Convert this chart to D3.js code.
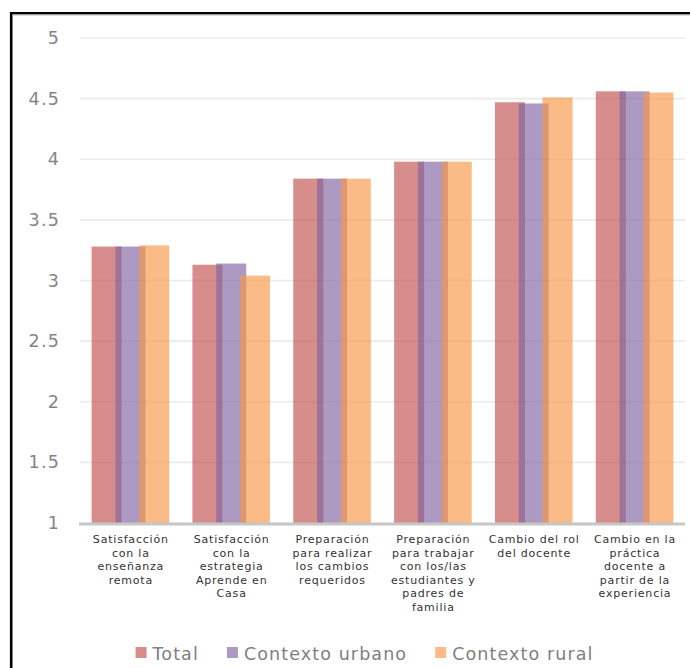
<!DOCTYPE html>
<html>
<head>
<meta charset="utf-8">
<script src="https://cdn.jsdelivr.net/npm/d3@7"></script>
<style>
  html, body { margin: 0; padding: 0; background: #fff; }
  svg { display: block; font-family: "DejaVu Sans", Verdana, sans-serif; }
</style>
</head>
<body>
<svg id="chart" width="690" height="668"></svg>
<script>
// Categories (wrapped into lines as printed under each group)
const categories = [
  ["Satisfacción", "con la", "enseñanza", "remota"],
  ["Satisfacción", "con la", "estrategia", "Aprende en", "Casa"],
  ["Preparación", "para realizar", "los cambios", "requeridos"],
  ["Preparación", "para trabajar", "con los/las", "estudiantes y", "padres de", "familia"],
  ["Cambio del rol", "del docente"],
  ["Cambio en la", "práctica", "docente a", "partir de la", "experiencia"]
];
const seriesNames = ["Total", "Contexto urbano", "Contexto rural"];
const totalValues  = [3.28, 3.13, 3.84, 3.98, 4.47, 4.56];
const urbanValues  = [3.28, 3.14, 3.84, 3.98, 4.46, 4.56];
const ruralValues  = [3.29, 3.04, 3.84, 3.98, 4.51, 4.55];
const yTicks = [1, 1.5, 2, 2.5, 3, 3.5, 4, 4.5, 5];
const seriesColors = ["#C0504D", "#8064A2", "#F79646"];

const seriesValues = [totalValues, urbanValues, ruralValues];
const svg = d3.select("#chart");

// Outer frame (top and left edges)
svg.append("path")
  .attr("d", "M11.2,700 L11.2,13.2 L700,13.2")
  .attr("fill", "none")
  .attr("stroke", "#000")
  .attr("stroke-width", 2.6);
svg.append("line")
  .attr("x1", 12.5).attr("x2", 690).attr("y1", 15).attr("y2", 15)
  .attr("stroke", "#bbb").attr("stroke-width", 1);

const plotLeft = 80, plotRight = 685;
const y = d3.scaleLinear().domain([1, 5]).range([523, 38]);
const x = d3.scaleBand()
  .domain(d3.range(categories.length))
  .range([plotLeft, plotRight]);
const xs = d3.scalePoint().domain(seriesNames).range([-23.8, 23.8]);
const barW = 30;

// Horizontal gridlines
svg.append("g")
  .selectAll("line")
  .data(yTicks.filter(t => t > 1))
  .join("line")
  .attr("x1", plotLeft).attr("x2", plotRight)
  .attr("y1", d => y(d)).attr("y2", d => y(d))
  .attr("stroke", "#ebebeb")
  .attr("stroke-width", 1.6);

// Y axis labels
const yAxis = d3.axisLeft(y)
  .tickValues(yTicks)
  .tickFormat(d3.format("~g"))
  .tickSize(0)
  .tickPadding(20);
const gy = svg.append("g").attr("transform", `translate(${plotLeft},0)`).call(yAxis);
gy.select(".domain").remove();
gy.selectAll("text")
  .attr("fill", "#858585")
  .style("font-size", "17.5px")
  .style("letter-spacing", "1.2px")
  .style("font-family", "DejaVu Sans, Verdana, sans-serif");

// Bars, drawn series by series so later ones overlap earlier ones
seriesNames.forEach((s, si) => {
  svg.append("g")
    .selectAll("rect")
    .data(seriesValues[si])
    .join("rect")
    .attr("x", (d, i) => x(i) + x.bandwidth() / 2 + xs(s) - barW / 2)
    .attr("y", d => y(d))
    .attr("width", barW)
    .attr("height", d => y(1) - y(d))
    .attr("fill", seriesColors[si])
    .attr("fill-opacity", 0.65);
});

// Baseline
svg.append("line")
  .attr("x1", plotLeft - 1).attr("x2", plotRight)
  .attr("y1", y(1) + 1).attr("y2", y(1) + 1)
  .attr("stroke", "#c6c6c6")
  .attr("stroke-width", 3);

// Category labels
const catG = svg.append("g");
categories.forEach((lines, i) => {
  const cxg = x(i) + x.bandwidth() / 2;
  const t = catG.append("text")
    .attr("x", cxg)
    .attr("y", 543)
    .attr("text-anchor", "middle")
    .attr("fill", "#333")
    .style("font-size", "11px")
    .style("letter-spacing", "0.8px");
  lines.forEach((ln, li) => {
    t.append("tspan")
      .attr("x", cxg + 0.4)
      .attr("dy", li === 0 ? 0 : 13.6)
      .text(ln);
  });
});

// Legend
const legend = svg.append("g");
const items = legend.selectAll("g")
  .data(seriesNames)
  .join("g");
items.append("rect")
  .attr("width", 11).attr("height", 11)
  .attr("y", 647)
  .attr("fill", (d, i) => seriesColors[i])
  .attr("fill-opacity", 0.65);
items.append("text")
  .attr("y", 660)
  .attr("fill", "#808080")
  .style("font-size", "17.5px")
  .style("letter-spacing", "1.1px")
  .text(d => d);
let cx = 0;
items.each(function () {
  const g = d3.select(this);
  const w = g.select("text").node().getComputedTextLength();
  g.select("rect").attr("x", cx);
  g.select("text").attr("x", cx + 17);
  cx += 17 + w + 28;
});
const legendWidth = cx - 28;
legend.attr("transform", `translate(${364.5 - legendWidth / 2},0)`);
</script>
</body>
</html>
